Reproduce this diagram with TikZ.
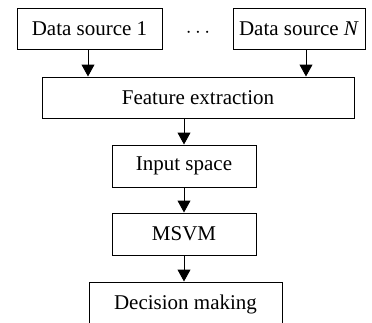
\documentclass[tikz,border=0pt]{standalone}
\usepackage{fontspec}
\setmainfont{Liberation Serif}
\usetikzlibrary{arrows.meta}
\begin{document}
\begin{tikzpicture}[x=1pt,y=-1pt,
  box/.style={draw=black,line width=1pt,rectangle,inner sep=0pt,font=\fontsize{21}{24}\selectfont},
  arr/.style={line width=1pt,-{Triangle[width=13pt,length=12pt]}}]
\useasboundingbox (0,0) rectangle (372,322);
\node[box,minimum width=145pt,minimum height=41pt] (ds1) at (89.5,28.5) {Data source 1};
\node[box,minimum width=132pt,minimum height=41pt] (dsn) at (299,28.5) {Data source \textit{N}};
\node[font=\fontsize{21}{24}\selectfont] (dots) at (198,33) {$\cdots$};
\node[box,minimum width=312pt,minimum height=41pt] (fe) at (198,97.5) {Feature extraction};
\node[box,minimum width=144pt,minimum height=42pt] (in) at (184,166) {Input space};
\node[box,minimum width=144pt,minimum height=42pt] (msvm) at (184,234) {MSVM};
\node[box,minimum width=193pt,minimum height=44pt] (dm) at (185.5,304) {Decision making};
\draw[arr] ([xshift=-1.5pt]ds1.south) -- ([xshift=-1.5pt]ds1.south |- fe.north);
\draw[arr] ([xshift=7pt]dsn.south) -- ([xshift=7pt]dsn.south |- fe.north);
\draw[arr] (fe.south -| in.north) -- (in.north);
\draw[arr] (in.south) -- (msvm.north);
\draw[arr] (msvm.south) -- (msvm.south |- dm.north);
\end{tikzpicture}
\end{document}
